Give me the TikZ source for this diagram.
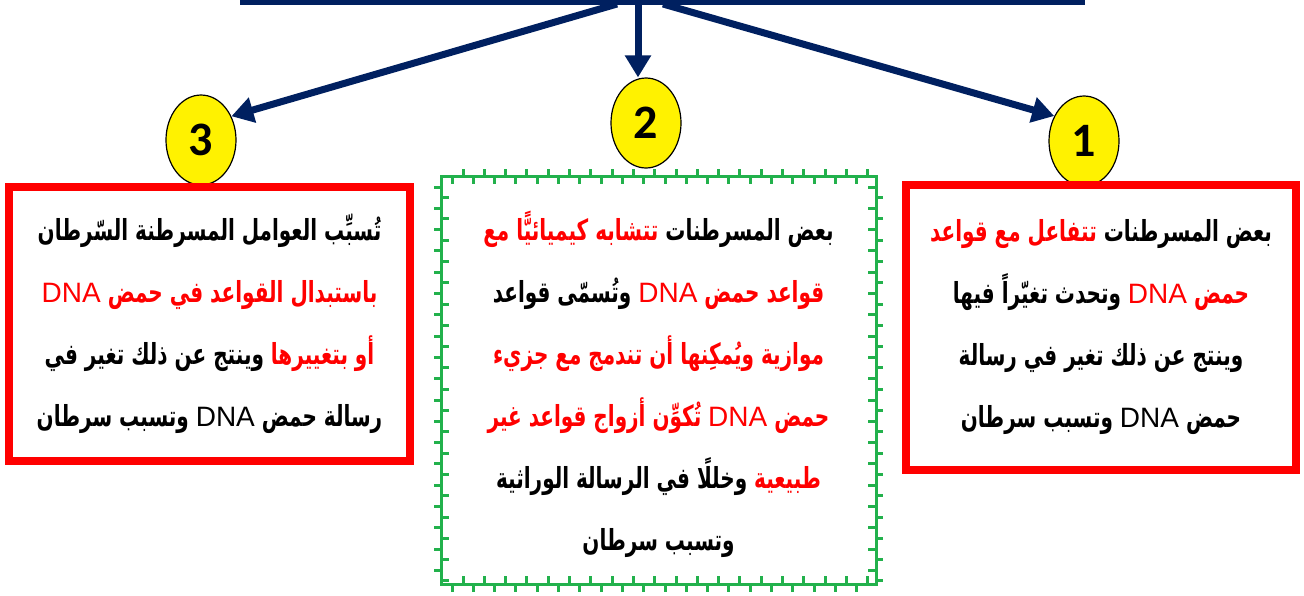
\documentclass[tikz,border=0pt]{standalone}
\usepackage{fontspec}
\usepackage{graphicx}
\newfontfamily\arabicfont[Script=Arabic]{DejaVu Sans}
\newfontfamily\latinfont{Liberation Sans}
\newfontfamily\numfont{Carlito}
\TeXXeTstate=1
\usetikzlibrary{shapes.geometric, arrows.meta}
\definecolor{navy}{RGB}{0,32,96}
\definecolor{brick}{RGB}{34,177,76}
\tikzset{
    link/.style={draw=navy, line width=7pt, -{Triangle[width=25pt,length=22pt]}},
    badge/.style={ellipse, draw=black, line width=1.2pt, fill=yellow,
        minimum width=70pt, minimum height=90pt, inner sep=0pt,
        font=\numfont\bfseries\fontsize{48}{48}\selectfont},
    textbox/.style={align=center, inner sep=0pt,
        font=\arabicfont\bfseries\fontsize{20}{62}\selectfont},
    redbox/.style={textbox, draw=red, line width=8pt},
    brickline/.style={draw=brick, line width=3pt},
}
% visual order: segments are written left to right, each one right-to-left inside
\newcommand{\tall}{1.45}
\newcommand{\dna}{\beginL\scalebox{1}[0.69]{\latinfont\mdseries\fontsize{28}{28}\selectfont DNA}\endL}
\newcommand{\rtl}[1]{\scalebox{1}[\tall]{\beginR #1\endR}}
\newcommand{\redrtl}[1]{{\color{red}\scalebox{1}[\tall]{\beginR #1\endR}}}

\begin{document}
\begin{tikzpicture}[x=1pt, y=-1pt]
    \useasboundingbox (0,0) rectangle (1304,595);
    % top bar
    \coordinate (bar-l) at (240,2);
    \coordinate (bar-r) at (1085,2);
    \draw[navy, line width=6pt] (bar-l) -- (bar-r);
    % numbered badges
    \node[badge] (n3) at (201,140) {3};
    \node[badge] (n2) at (646,123) {2};
    \node[badge] (n1) at (1084,141) {1};
    % arrows from the bar
    \coordinate (from3) at (617,4);
    \coordinate (from2) at (638,2);
    \coordinate (from1) at (663,4);
    \draw[link] (from3) -- (n3.38);
    \draw[link] (from2) -- (from2 |- n2.north);
    \draw[link] (from1) -- (n1.140);
    % box 3
    \node[redbox, minimum width=401pt, minimum height=274pt] (box3) at (209.5,324) {
        \rtl{تُسبِّب العوامل المسرطنة السّرطان}\\
        \redrtl{باستبدال القواعد في حمض \dna}\\
        \rtl{وينتج عن ذلك تغير في} \redrtl{أو بتغييرها}\\
        \rtl{رسالة حمض \dna{} وتسبب سرطان}
    };
    % box 1
    \node[redbox, minimum width=390pt, minimum height=285pt] (box1) at (1101,327) {
        \redrtl{تتفاعل مع قواعد} \rtl{بعض المسرطنات}\\
        \rtl{وتحدث تغيّراً فيها} \redrtl{حمض \dna}\\
        \rtl{وينتج عن ذلك تغير في رسالة}\\
        \rtl{حمض \dna{} وتسبب سرطان}
    };
    % box 2 with brick border
    \draw[brickline] (441,176) rectangle (876,584);
    \foreach \i in {0,...,19} {
        \draw[brickline] (463+21.3*\i,169) -- ++(0,7) (452+21.3*\i,176) -- ++(0,8);
        \draw[brickline] (463+21.3*\i,576) -- ++(0,8) (452+21.3*\i,584) -- ++(0,8);
    }
    \foreach \j in {0,...,18} {
        \draw[brickline] (434,187+21.3*\j) -- ++(7,0) (441,197.5+21.3*\j) -- ++(8,0);
        \draw[brickline] (868,187+21.3*\j) -- ++(8,0) (876,197.5+21.3*\j) -- ++(7,0);
    }
    \node[textbox] (box2) at (658.5,384) {
        \redrtl{تتشابه كيميائيًّا مع} \rtl{بعض المسرطنات}\\
        \rtl{وتُسمّى قواعد} \redrtl{قواعد حمض \dna}\\
        \redrtl{موازية ويُمكِنها أن تندمج مع جزيء}\\
        \redrtl{حمض \dna{} تُكوِّن أزواج قواعد غير}\\
        \rtl{وخللًا في الرسالة الوراثية} \redrtl{طبيعية}\\
        \rtl{وتسبب سرطان}
    };
\end{tikzpicture}
\end{document}
